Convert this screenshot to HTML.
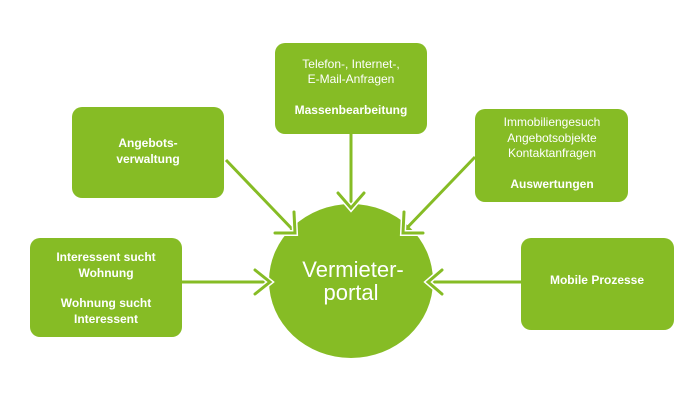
<!DOCTYPE html>
<html><head><meta charset="utf-8"><style>
body{margin:0;background:#fff;width:700px;height:410px;overflow:hidden}
svg text{font-family:"Liberation Sans",sans-serif;fill:#fff}
.b{font-weight:bold}
</style></head><body>
<svg width="700" height="410" viewBox="0 0 700 410">
<g fill="#86bc25">
<rect x="275" y="43" width="152" height="91" rx="10"/>
<rect x="72" y="107" width="152" height="91" rx="10"/>
<rect x="475" y="109" width="153" height="93" rx="10"/>
<rect x="30" y="238" width="152" height="99" rx="10"/>
<rect x="521" y="238" width="153" height="92" rx="10"/>
<ellipse cx="351" cy="281" rx="82" ry="77"/>
</g>
<g stroke="#86bc25" stroke-width="3" fill="none">
<line x1="351" y1="134" x2="351" y2="208"/>
<line x1="226" y1="160" x2="294" y2="231"/>
<line x1="475" y1="157" x2="404" y2="231"/>
<line x1="182" y1="282" x2="270" y2="282"/>
<line x1="521" y1="282" x2="428" y2="282"/>
</g>
<g stroke="#fff" stroke-width="6" fill="none" stroke-linecap="round">
<polyline points="338,193 351,208 364,193"/>
<polyline points="294,212 295,233 275,233"/>
<polyline points="404,212 403,233 423,233"/>
<polyline points="255,270 270,282 255,294"/>
<polyline points="442,270 428,282 442,294"/>
</g>
<g stroke="#86bc25" stroke-width="3" fill="none" stroke-linecap="round">
<polyline points="338,193 351,208 364,193"/>
<polyline points="294,212 295,233 275,233"/>
<polyline points="404,212 403,233 423,233"/>
<polyline points="255,270 270,282 255,294"/>
<polyline points="442,270 428,282 442,294"/>
</g>
<g font-size="12" text-anchor="middle">
<text x="351" y="68">Telefon-, Internet-,</text>
<text x="351" y="83">E-Mail-Anfragen</text>
<text x="351" y="114" class="b">Massenbearbeitung</text>
<text x="148" y="147" class="b">Angebots-</text>
<text x="148" y="163" class="b">verwaltung</text>
<text x="552" y="126">Immobiliengesuch</text>
<text x="552" y="142">Angebotsobjekte</text>
<text x="552" y="157">Kontaktanfragen</text>
<text x="552" y="188" class="b">Auswertungen</text>
<text x="106" y="261" class="b">Interessent sucht</text>
<text x="106" y="277" class="b">Wohnung</text>
<text x="106" y="307" class="b">Wohnung sucht</text>
<text x="106" y="323" class="b">Interessent</text>
<text x="597" y="284" class="b">Mobile Prozesse</text>
</g>
<g font-size="22" text-anchor="middle">
<text x="353" y="277">Vermieter-</text>
<text x="351" y="300">portal</text>
</g>
</svg>
</body></html>
